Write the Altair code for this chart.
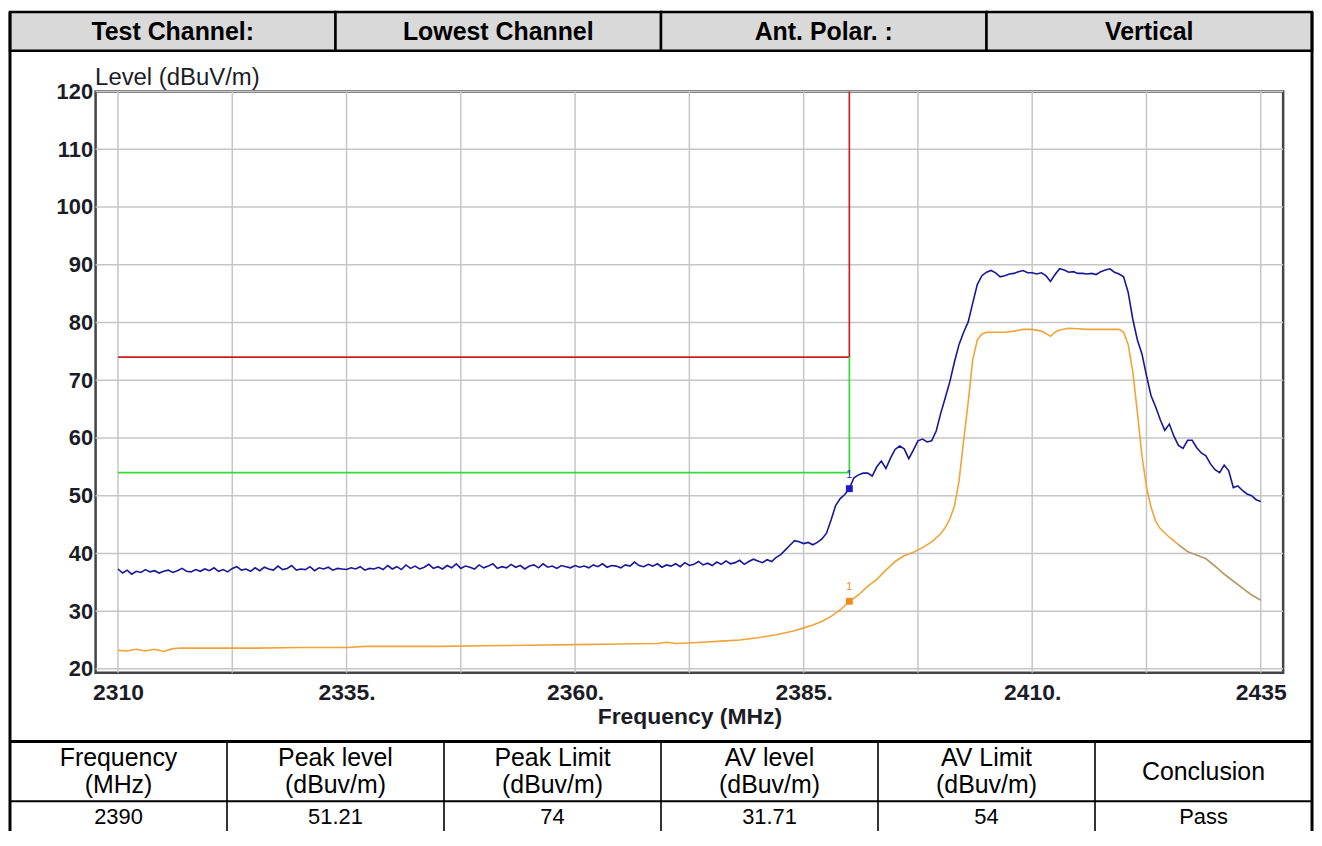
import altair as alt
import pandas as pd

FONT = "Liberation Sans"
TXT = "#1c1c26"

# ---------------- data ----------------
# Peak trace, sampled every 0.5 MHz from 2310 MHz
peak_level = [
    37.3, 36.6, 37.1, 36.4, 36.9, 36.7, 37.2, 36.8, 37.0, 36.6,
    36.9, 37.1, 36.7, 37.0, 37.4, 36.9, 36.8, 37.2, 36.9, 37.3,
    37.0, 37.5, 36.9, 37.2, 36.8, 37.4, 37.7, 37.1, 37.3, 36.9,
    37.5, 37.0, 37.6, 37.3, 37.1, 37.8, 37.2, 37.4, 37.9, 37.1,
    37.3, 37.2, 37.7, 37.0, 37.5, 37.3, 37.6, 37.1, 37.4, 37.3,
    37.2, 37.5, 37.3, 37.7, 37.1, 37.4, 37.3, 37.6, 37.2, 37.9,
    37.3, 37.7, 37.2, 38.0, 37.4, 37.8, 37.3, 37.6, 38.1, 37.4,
    37.7, 37.3, 37.9, 37.5, 38.2, 37.4, 37.8, 37.6, 37.3, 38.0,
    37.5, 37.8, 38.2, 37.4, 37.7, 37.5, 38.1, 37.6, 37.9, 37.3,
    37.8, 38.0, 37.5, 38.2, 37.6, 37.8, 37.4, 37.9, 37.7, 37.5,
    37.9, 37.6, 37.8, 37.5, 38.0, 37.7, 38.2, 37.6, 37.9, 37.8,
    37.5, 38.0, 37.8, 38.5, 37.9, 37.7, 38.1, 37.8, 38.2, 37.6,
    38.0, 37.8, 38.2, 37.7, 38.4, 37.9, 38.1, 38.6, 38.0, 38.3,
    37.9, 38.5, 38.1, 38.7, 38.2, 38.4, 38.8, 38.1, 38.6, 39.0,
    38.7, 38.4, 38.9, 38.6, 39.3,
    39.8, 40.6, 41.4, 42.2, 42.0, 41.7, 41.9, 41.5, 41.9, 42.5,
    43.5, 45.8, 48.3, 49.5, 50.2, 51.21, 53.1, 53.6, 53.9, 53.9,
    53.4, 55.0, 56.0, 54.7, 56.5, 58.0, 58.6, 58.1, 56.4, 57.9,
    59.5, 59.8, 59.3, 59.5, 61.2, 64.3, 67.0, 69.8, 73.2, 76.2,
    78.3, 80.1, 83.4, 86.6, 88.1, 88.7, 89.0, 88.6, 87.9, 88.1,
    88.4, 88.5, 88.8, 89.0, 88.6, 88.6, 88.4, 88.6, 88.1, 87.1,
    88.3, 89.3, 89.1, 88.7, 88.8, 88.5, 88.5, 88.4, 88.5, 88.3,
    88.8, 89.1, 89.3, 88.7, 88.4, 87.9, 85.2, 80.6, 77.0, 74.6,
    70.8, 67.3, 65.4, 63.2, 61.3, 62.4, 60.3, 58.7, 58.2, 59.6,
    59.6, 58.3, 57.4, 56.9, 55.5, 54.5, 54.0, 55.3, 54.3, 51.4,
    51.7, 50.9, 50.3, 50.0, 49.3, 49.0,
]
peak_freq = [2310 + 0.5 * i for i in range(len(peak_level))]

# Average trace
avg_freq = [
    2310, 2311, 2312, 2313, 2314, 2315, 2316, 2317, 2318, 2320, 2325, 2330,
    2335, 2337, 2340, 2345, 2350, 2355, 2360, 2365, 2369, 2370, 2371, 2374,
    2376, 2378, 2380, 2382, 2384, 2385, 2386, 2387, 2388, 2389, 2390, 2391,
    2392, 2393, 2394, 2395, 2396, 2397, 2398, 2399, 2400, 2400.5, 2401,
    2401.5, 2402, 2402.5, 2403, 2403.5, 2404, 2404.5, 2405, 2406, 2407, 2408,
    2409, 2410, 2411, 2411.5, 2412, 2412.5, 2413, 2414, 2415, 2416, 2417,
    2418, 2419, 2419.5, 2420, 2420.5, 2421, 2421.5, 2422, 2422.5, 2423,
    2423.5, 2424, 2425, 2426, 2427, 2428, 2429, 2430, 2431, 2432, 2433,
    2434, 2435,
]
avg_level = [
    23.2, 23.1, 23.4, 23.1, 23.4, 23.0, 23.5, 23.6, 23.6, 23.6, 23.6, 23.7,
    23.7, 23.9, 23.9, 23.9, 24.0, 24.1, 24.2, 24.3, 24.4, 24.6, 24.4, 24.6,
    24.8, 25.0, 25.4, 25.9, 26.6, 27.1, 27.6, 28.2, 29.1, 30.2, 31.71, 32.8,
    34.3, 35.5, 37.1, 38.6, 39.6, 40.2, 41.0, 42.0, 43.4, 44.5, 46.0,
    48.2, 52.6, 59.5, 66.2, 73.6, 77.0, 78.0, 78.3, 78.3, 78.3, 78.5,
    78.8, 78.8, 78.5, 78.1, 77.6, 78.3, 78.7, 79.0, 78.9, 78.8, 78.8,
    78.8, 78.8, 78.8, 78.3, 76.2, 71.5, 64.5, 57.0, 51.5, 48.0,
    45.6, 44.3, 42.8, 41.5, 40.3, 39.7, 39.1, 37.8, 36.4, 35.2, 34.0,
    32.8, 31.9,
]

# Limit lines
peak_limit_freq = [2310, 2390, 2390]
peak_limit_level = [74, 74, 120]
av_limit_freq = [2310, 2390, 2390]
av_limit_level = [54, 54, 74]

# Markers
marker_freq = [2390, 2390]
marker_level = [51.21, 31.71]
marker_trace = ["Peak", "AV"]

# Axes
x_ticks = [2310, 2335, 2360, 2385, 2410, 2435]
x_grid = [2310, 2322.5, 2335, 2347.5, 2360, 2372.5, 2385, 2397.5, 2410, 2422.5, 2435]
y_ticks = [20, 30, 40, 50, 60, 70, 80, 90, 100, 110, 120]

# Tables
header_cells = ["Test Channel:", "Lowest Channel", "Ant. Polar. :", "Vertical"]
result_headers = ["Frequency\n(MHz)", "Peak level\n(dBuv/m)", "Peak Limit\n(dBuv/m)",
                  "AV level\n(dBuv/m)", "AV Limit\n(dBuv/m)", "Conclusion"]
result_values = ["2390", "51.21", "74", "31.71", "54", "Pass"]

# ---------------- plot ----------------
xs = alt.Scale(domain=[2310, 2435], padding=22.5, nice=False, zero=False)
ys = alt.Scale(domain=[20, 120], range=[580, 0], nice=False, zero=False)

X_AXIS = alt.Axis(
    values=x_ticks, format="d",
    labelExpr="(datum.value == 2310 || datum.value == 2435) ? datum.label : datum.label + '.'",
    title="Frequency (MHz)", grid=False, ticks=False, domain=False,
    labelFlush=False, labelFont=FONT, labelFontSize=23, labelFontWeight="bold",
    labelColor=TXT, labelPadding=9, titleFont=FONT, titleFontSize=23,
    titleFontWeight="bold", titleColor=TXT, titlePadding=1)
Y_AXIS = alt.Axis(
    values=y_ticks, title="Level (dBuV/m)", grid=False, ticks=False, domain=False,
    labelFlush=False, labelFont=FONT, labelFontSize=22, labelFontWeight="bold",
    labelColor=TXT, labelPadding=3, titleFont=FONT, titleFontSize=24,
    titleFontWeight="normal", titleColor=TXT, titleAngle=0, titleAlign="left",
    titleBaseline="alphabetic", titleX=-1, titleY=-7)


def X(field="freq"):
    return alt.X(f"{field}:Q", scale=xs, axis=X_AXIS)


def Y(field="level"):
    return alt.Y(f"{field}:Q", scale=ys, axis=Y_AXIS)


peak_df = pd.DataFrame({"freq": peak_freq, "level": peak_level})
avg_df = pd.DataFrame({"freq": avg_freq, "level": avg_level})
pl_df = pd.DataFrame({"freq": peak_limit_freq, "level": peak_limit_level, "i": [0, 1, 2]})
al_df = pd.DataFrame({"freq": av_limit_freq, "level": av_limit_level, "i": [0, 1, 2]})
mk_df = pd.DataFrame({"freq": marker_freq, "level": marker_level, "trace": marker_trace})

grid_x = alt.Chart(pd.DataFrame({"freq": x_grid})).mark_rule(
    color="#c6c6c6", strokeWidth=1.5).encode(x=X())
grid_y = alt.Chart(pd.DataFrame({"level": y_ticks})).mark_rule(
    color="#c6c6c6", strokeWidth=1.5).encode(y=Y())

red = alt.Chart(pl_df).mark_line(color="#cc1f1f", strokeWidth=1.7).encode(
    x=X(), y=Y(), order="i:Q")
green = alt.Chart(al_df).mark_line(color="#33dd33", strokeWidth=1.7).encode(
    x=X(), y=Y(), order="i:Q")

avg_line = alt.Chart(avg_df).mark_line(color="#f2a336", strokeWidth=1.6).encode(x=X(), y=Y())
avg_tail = alt.Chart(avg_df).transform_filter("datum.freq >= 2426").mark_line(
    color="#ab9f7e", strokeWidth=1.4).encode(x=X(), y=Y())

peak_line = alt.Chart(peak_df).mark_line(color="#17179a", strokeWidth=1.6).encode(x=X(), y=Y())

mk_color = alt.Color("trace:N", scale=alt.Scale(domain=["Peak", "AV"],
                                                range=["#1a1ad0", "#f08c1c"]), legend=None)
markers = alt.Chart(mk_df).mark_square(size=48, opacity=1).encode(
    x=X(), y=Y(), color=mk_color)
marker_txt = alt.Chart(mk_df).mark_text(dy=-14, fontSize=11, font=FONT).encode(
    x=X(), y=Y(), color=mk_color, text=alt.value("1"))

plot = alt.layer(grid_y, grid_x, red, green, avg_line, avg_tail, peak_line, markers, marker_txt)

# ---------------- header table ----------------
hx = alt.Scale(domain=[0, 4], range=[-86, 1222], nice=False, zero=False)
hy = alt.Scale(domain=[0, 1], range=[-80, -41], nice=False, zero=False)
hdr_df = pd.DataFrame({"c0": [0, 1, 2, 3], "c1": [1, 2, 3, 4], "r0": [0] * 4, "r1": [1] * 4,
                       "label": header_cells})
hdr_rect = alt.Chart(hdr_df).mark_rect(fill="#d9d9d9", stroke="black", strokeWidth=2.5).encode(
    x=alt.X("c0:Q", scale=hx, axis=None), x2="c1:Q",
    y=alt.Y("r0:Q", scale=hy, axis=None), y2="r1:Q")
hdr_text = alt.Chart(hdr_df).transform_calculate(cm="datum.c0 + 0.5", rm="0.52").mark_text(
    font=FONT, fontSize=25, fontWeight="bold", color="black").encode(
    x=alt.X("cm:Q", scale=hx, axis=None), y=alt.Y("rm:Q", scale=hy, axis=None), text="label:N")
header = alt.layer(hdr_rect, hdr_text)

# ---------------- result table ----------------
bx = alt.Scale(domain=[0, 6], range=[-86, 1222], nice=False, zero=False)
by = alt.Scale(domain=[0, 1], range=[653, 743], nice=False, zero=False)
res_df = pd.DataFrame({"c0": list(range(6)), "head": result_headers, "val": result_values})
hlines = pd.DataFrame({"r": [0, 0.667], "x0": [0, 0], "x1": [6, 6], "w": [3, 2]})
vlines = pd.DataFrame({"c": [1, 2, 3, 4, 5], "r0": [0] * 5, "r1": [1] * 5})

t_h = alt.Chart(hlines).mark_rule(color="black").encode(
    x=alt.X("x0:Q", scale=bx, axis=None), x2="x1:Q",
    y=alt.Y("r:Q", scale=by, axis=None),
    strokeWidth=alt.StrokeWidth("w:Q", scale=None, legend=None))
t_v = alt.Chart(vlines).mark_rule(color="black", strokeWidth=1.6).encode(
    x=alt.X("c:Q", scale=bx, axis=None), y=alt.Y("r0:Q", scale=by, axis=None), y2="r1:Q")
t_head = alt.Chart(res_df).transform_calculate(
    cm="datum.c0 + 0.5",
    rm="indexof(datum.head, '\\n') >= 0 ? 0.18 : 0.335").mark_text(
    font=FONT, fontSize=25, color="black", lineBreak="\n", lineHeight=28).encode(
    x=alt.X("cm:Q", scale=bx, axis=None), y=alt.Y("rm:Q", scale=by, axis=None), text="head:N")
t_val = alt.Chart(res_df).transform_calculate(cm="datum.c0 + 0.5", rm="0.845").mark_text(
    font=FONT, fontSize=22, color="black").encode(
    x=alt.X("cm:Q", scale=bx, axis=None), y=alt.Y("rm:Q", scale=by, axis=None), text="val:N")
table = alt.layer(t_h, t_v, t_head, t_val)

# ---------------- outer border ----------------
ox = alt.Scale(domain=[0, 1], range=[-86, 1222], nice=False, zero=False)
oy = alt.Scale(domain=[0, 1], range=[-80, 743], nice=False, zero=False)
border = alt.Chart(pd.DataFrame({"c": [0, 1], "r0": [0, 0], "r1": [1, 1]})).mark_rule(
    color="black", strokeWidth=3).encode(
    x=alt.X("c:Q", scale=ox, axis=None), y=alt.Y("r0:Q", scale=oy, axis=None), y2="r1:Q")

chart = alt.layer(plot, header, table, border).resolve_scale(
    x="independent", y="independent", color="independent", strokeWidth="independent"
).properties(width=1193, height=584, padding=0).configure_view(
    stroke="#444444", strokeWidth=2.5)

chart.save("out.html", embed_options={"renderer": "svg", "actions": False})
